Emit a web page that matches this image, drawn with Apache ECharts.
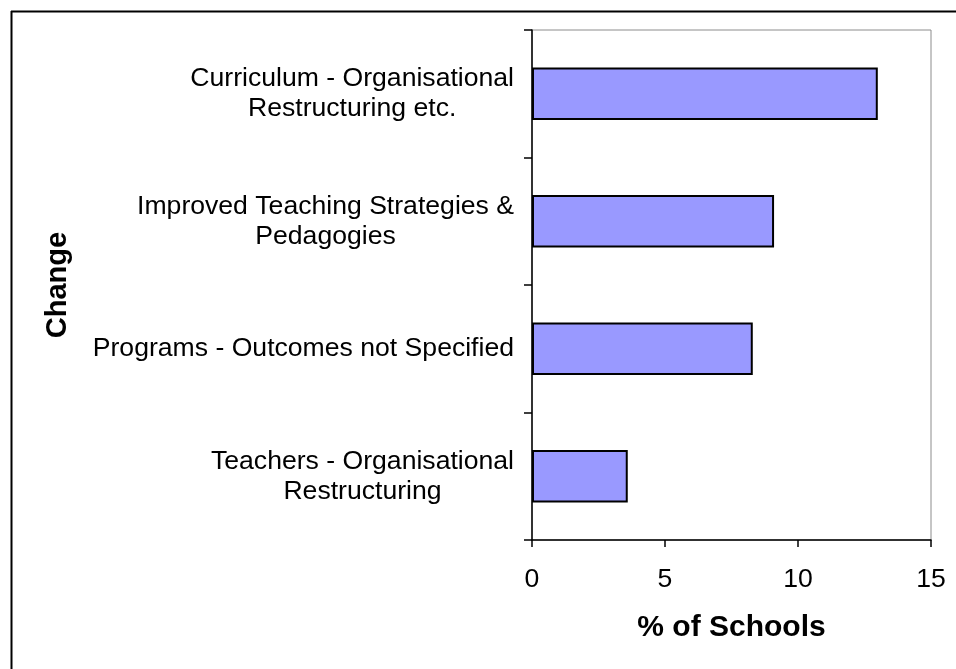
<!DOCTYPE html>
<html>
<head>
<meta charset="utf-8">
<script src="https://cdn.jsdelivr.net/npm/echarts@6/dist/echarts.min.js"></script>
<style>
  html, body { margin: 0; padding: 0; background: #fff; }
  #chart { width: 956px; height: 669px; }
</style>
</head>
<body>
<div id="chart"></div>
<script>
// Categories listed top to bottom
const categories = [
  'Curriculum - Organisational\nRestructuring etc.',
  'Improved Teaching Strategies &\nPedagogies',
  'Programs - Outcomes not Specified',
  'Teachers - Organisational\nRestructuring'
];
// Share of schools reporting each change (%)
const schoolShare = [13.0, 9.1, 8.3, 3.6];
const xTicks = { min: 0, max: 15, interval: 5 };

const FONT = '"Liberation Sans", Arial, sans-serif';

const chart = echarts.init(document.getElementById('chart'), null, { renderer: 'canvas' });

chart.setOption({
  backgroundColor: '#ffffff',
  animation: false,
  grid: {
    left: 532, right: 25, top: 30, bottom: 129,
    show: true, borderColor: '#8c8c8c', borderWidth: 1, backgroundColor: 'transparent'
  },
  xAxis: {
    type: 'value',
    min: xTicks.min, max: xTicks.max, interval: xTicks.interval,
    name: '% of Schools',
    nameLocation: 'middle',
    nameGap: 73,
    nameTextStyle: { fontFamily: FONT, fontSize: 30, fontWeight: 'bold', color: '#000' },
    axisLine: { show: true, lineStyle: { color: '#000', width: 1.5 } },
    axisTick: { show: true, length: 7, lineStyle: { color: '#000', width: 1.5 } },
    axisLabel: { fontFamily: FONT, fontSize: 26.6, color: '#000', margin: 26 },
    splitLine: { show: false }
  },
  yAxis: {
    type: 'category',
    data: categories,
    inverse: true,
    name: 'Change',
    nameLocation: 'middle',
    nameGap: 460,
    nameRotate: 90,
    nameTextStyle: { fontFamily: FONT, fontSize: 29, fontWeight: 'bold', color: '#000' },
    axisLine: { show: true, lineStyle: { color: '#000', width: 1.5 } },
    axisTick: { show: true, length: 8, lineStyle: { color: '#000', width: 1.5 } },
    axisLabel: {
      margin: 18,
      formatter: v => v.split('\n').map(s => '{c|' + s + '}').join('\n'),
      rich: {
        c: { align: 'center', fontFamily: FONT, fontSize: 26.6, lineHeight: 30, color: '#000' }
      }
    }
  },
  series: [{
    type: 'bar',
    data: schoolShare,
    barWidth: '41%',
    itemStyle: { color: '#9999ff', borderColor: '#000', borderWidth: 2 }
  }],
  graphic: [
    { type: 'line', shape: { x1: 11.5, y1: 11, x2: 11.5, y2: 669 }, style: { stroke: '#000', lineWidth: 2 } },
    { type: 'line', shape: { x1: 11, y1: 11.5, x2: 956, y2: 11.5 }, style: { stroke: '#000', lineWidth: 2 } }
  ]
});
</script>
</body>
</html>
